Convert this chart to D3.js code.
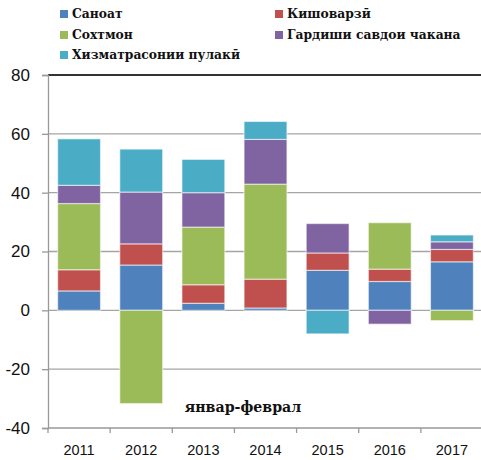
<!DOCTYPE html>
<meta charset="utf-8">
<style>

body {
  margin: 0;
  background: #fff;
  overflow: hidden;
}

.tick-label {
  font-family: "Liberation Sans", Arial, sans-serif;
  fill: #111;
}

.legend-label, .note {
  font-family: "DejaVu Serif", serif;
  font-weight: bold;
  fill: #111;
}

</style>
<body>

<script src="https://d3js.org/d3.v7.min.js"></script>
<script>

// data
var years = ["2011", "2012", "2013", "2014", "2015", "2016", "2017"];
var seriesNames = ["Саноат", "Кишоварзӣ", "Сохтмон", "Гардиши савдои чакана", "Хизматрасонии пулакӣ"];
var seriesColors = ["#4f81bd", "#c0504d", "#9bbb59", "#8064a2", "#4bacc6"];
var sanoat      = [6.6, 15.4, 2.4, 0.8, 13.6, 9.8, 16.5];
var kishovarzi  = [7.2, 7.2, 6.3, 9.8, 5.9, 4.2, 4.2];
var sokhtmon    = [22.5, -31.7, 19.6, 32.3, 0, 15.8, -3.5];
var gardish     = [6.2, 17.6, 11.7, 15.2, 10.0, -4.7, 2.6];
var khizmat     = [15.8, 14.6, 11.3, 6.1, -8.0, 0, 2.3];
var yTicks = [-40, -20, 0, 20, 40, 60, 80];
var noteText = "январ-феврал";

// set the dimensions and margins of the graph
var margin = {top: 75, right: 0, bottom: 32, left: 48},
    width = 435,
    height = 460 - margin.top - margin.bottom;

// table for d3.stack
var allSeries = [sanoat, kishovarzi, sokhtmon, gardish, khizmat];
var table = years.map(function(y, i) {
  var row = {year: y};
  seriesNames.forEach(function(name, k) { row[name] = allSeries[k][i]; });
  return row;
});

var stacked = d3.stack()
    .keys(seriesNames)
    .offset(d3.stackOffsetDiverging)(table);

// set the ranges
var x = d3.scaleBand().domain(years).range([0, width]).paddingInner(0.31).paddingOuter(0.155);
var xEdges = d3.scaleBand().domain(years).range([0, width]);
var y = d3.scaleLinear().domain([-40, 80]).range([height, 0]);
var color = d3.scaleOrdinal().domain(seriesNames).range(seriesColors);

var svg = d3.select("body").append("svg")
    .attr("width", 481)
    .attr("height", 460);

var g = svg.append("g")
    .attr("transform", "translate(" + margin.left + "," + margin.top + ")");

// gridlines
g.append("g")
  .selectAll("line")
  .data(yTicks.filter(function(d) { return d < 80 && d > -40; }))
  .enter().append("line")
    .attr("x1", 0)
    .attr("x2", width)
    .attr("y1", function(d) { return y(d); })
    .attr("y2", function(d) { return y(d); })
    .attr("stroke", "#a5a5a5")
    .attr("stroke-width", 1.3);

// bars
g.append("g")
  .selectAll("g")
  .data(stacked)
  .enter().append("g")
    .attr("fill", function(d) { return color(d.key); })
  .selectAll("rect")
  .data(function(d) { return d; })
  .enter().append("rect")
    .attr("x", function(d) { return x(d.data.year); })
    .attr("width", x.bandwidth())
    .attr("y", function(d) { return y(Math.max(d[0], d[1])); })
    .attr("height", function(d) { return Math.abs(y(d[0]) - y(d[1])); })
    .attr("stroke", "rgba(255,255,255,0.55)")
    .attr("stroke-width", 1.2);

// top border
g.append("line")
    .attr("x1", 0)
    .attr("x2", width)
    .attr("y1", y(80))
    .attr("y2", y(80))
    .attr("stroke", "#333")
    .attr("stroke-width", 2);

// y axis (plain hyphen for the minus sign, as in the original)
var yAxis = g.append("g")
    .call(d3.axisLeft(y).tickValues(yTicks).tickSize(6).tickPadding(12)
      .tickFormat(function(d) { return String(d); }));
yAxis.select(".domain").attr("stroke", "#999").attr("stroke-width", 1.3);
yAxis.selectAll(".tick line").attr("stroke", "#999").attr("stroke-width", 1.3);
yAxis.selectAll(".tick text")
    .attr("class", "tick-label")
    .style("font-size", "17px");

// x axis, ticks sit on the category edges
var xAxis = g.append("g")
    .attr("transform", "translate(0," + height + ")");
xAxis.append("line")
    .attr("x1", 0)
    .attr("x2", width)
    .attr("stroke", "#999")
    .attr("stroke-width", 1.3);
xAxis.selectAll(".edge")
  .data(years)
  .enter().append("line")
    .attr("class", "edge")
    .attr("x1", function(d) { return xEdges(d); })
    .attr("x2", function(d) { return xEdges(d); })
    .attr("y1", 0)
    .attr("y2", 5)
    .attr("stroke", "#999")
    .attr("stroke-width", 1.3);
xAxis.selectAll(".tick-label")
  .data(years)
  .enter().append("text")
    .attr("class", "tick-label")
    .attr("x", function(d) { return xEdges(d) + xEdges.bandwidth() / 2; })
    .attr("y", 27)
    .attr("text-anchor", "middle")
    .style("font-size", "14.5px")
    .text(function(d) { return d; });

// note inside the plot
g.append("text")
    .attr("class", "note")
    .attr("x", 243 - margin.left)
    .attr("y", 412 - margin.top)
    .attr("text-anchor", "middle")
    .style("font-size", "14.2px")
    .text(noteText);

// legend
var legendPos = [[60, 14], [275, 14], [60, 35], [275, 35], [60, 55]];
var legend = svg.append("g")
  .selectAll("g")
  .data(seriesNames)
  .enter().append("g")
    .attr("transform", function(d, i) { return "translate(" + legendPos[i][0] + "," + legendPos[i][1] + ")"; });

legend.append("rect")
    .attr("x", 0)
    .attr("y", -4)
    .attr("width", 8)
    .attr("height", 8)
    .attr("fill", function(d) { return color(d); });

legend.append("text")
    .attr("class", "legend-label")
    .attr("x", 12)
    .attr("y", 0)
    .attr("dy", "0.35em")
    .style("font-size", "12.3px")
    .text(function(d) { return d; });

</script>
</body>
